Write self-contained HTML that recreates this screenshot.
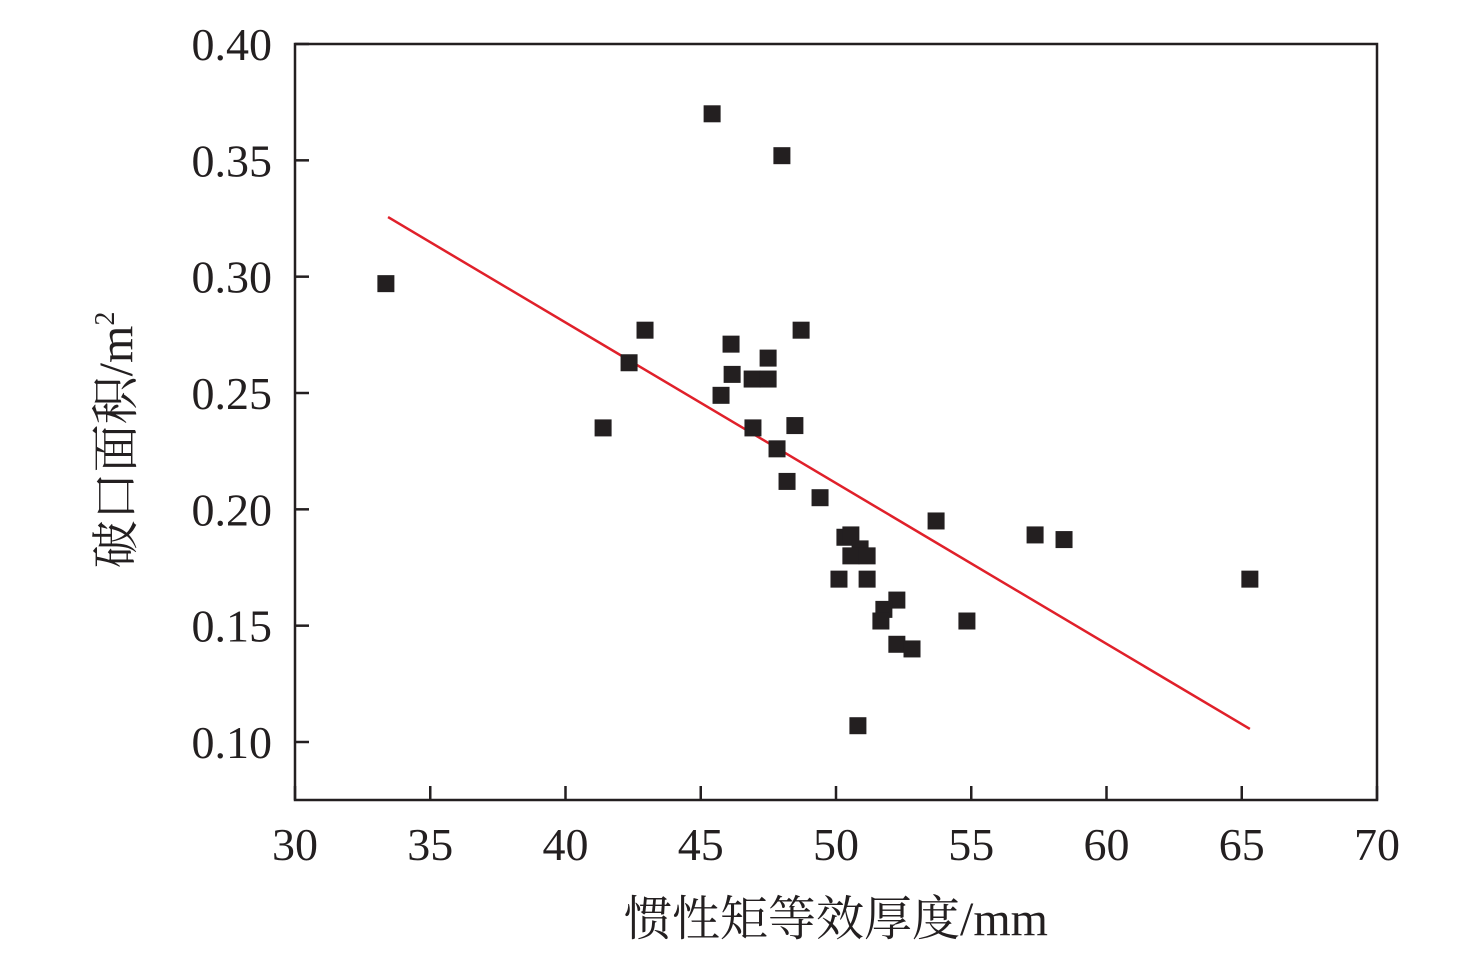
<!DOCTYPE html>
<html><head><meta charset="utf-8"><style>
html,body{margin:0;padding:0;background:#fff;}
svg text{font-family:"Liberation Serif","Noto Serif CJK SC",serif;fill:#231f20;}
</style></head><body>
<svg id="chart" width="1476" height="965" viewBox="0 0 1476 965" xmlns="http://www.w3.org/2000/svg">
<rect x="295" y="44" width="1082" height="756" fill="none" stroke="#231f20" stroke-width="2.5"/>
<g id="ticks"></g>
<g id="points"></g>
<text x="836" y="935" font-size="48" text-anchor="middle">惯性矩等效厚度/mm</text>
<text transform="translate(132,440) rotate(-90)" font-size="48" text-anchor="middle">破口面积/m<tspan font-size="28" dy="-18">2</tspan></text>
</svg>
<script>
const xTicks=[30,35,40,45,50,55,60,65,70];
const yTicks=[0.10,0.15,0.20,0.25,0.30,0.35,0.40];
const xs=[33.36,45.42,48.0,42.94,42.35,41.39,46.12,46.16,45.75,46.9,47.49,47.49,48.71,46.93,48.48,47.82,48.19,49.41,53.7,50.33,50.55,50.89,50.55,51.15,50.11,51.15,57.36,58.43,65.3,52.25,51.77,51.66,54.84,52.25,52.81,50.81];
const ys=[0.297,0.370,0.352,0.277,0.263,0.235,0.271,0.258,0.249,0.256,0.265,0.256,0.277,0.235,0.236,0.226,0.212,0.205,0.195,0.188,0.189,0.183,0.180,0.180,0.170,0.170,0.189,0.187,0.170,0.161,0.157,0.152,0.152,0.142,0.140,0.107];
const fitX=[33.44,65.3];
const fitY=[0.3256,0.1056];
const NS="http://www.w3.org/2000/svg";
const X=v=>295+(v-30)*(1082/40);
const Y=v=>742-(v-0.10)*(698/0.30);
const tg=document.getElementById('ticks'),pg=document.getElementById('points');
function mk(tag,a,p){const e=document.createElementNS(NS,tag);for(const k in a)e.setAttribute(k,a[k]);p.appendChild(e);return e;}
xTicks.forEach(t=>{
 const l=mk('line',{x1:X(t),x2:X(t),y1:800,y2:786,stroke:'#231f20','stroke-width':2.5},tg);
 
 
 const s=mk('text',{x:X(t),y:860,'font-size':46,'text-anchor':'middle'},tg);s.textContent=t;
 
 
});
yTicks.forEach(t=>{
 const l=mk('line',{x1:295,x2:309,y1:Y(t),y2:Y(t),stroke:'#231f20','stroke-width':2.5},tg);
 
 
 const s=mk('text',{x:272,y:Y(t)+16,'font-size':46,'text-anchor':'end'},tg);s.textContent=t.toFixed(2);
 
 
});
const fl=mk('line',{x1:X(fitX[0]),y1:Y(fitY[0]),x2:X(fitX[1]),y2:Y(fitY[1]),stroke:'#e0202a','stroke-width':2.5},pg);


xs.forEach((v,i)=>{
 const r=mk('rect',{x:X(v)-8.5,y:Y(ys[i])-8.5,width:17,height:17,fill:'#231f20'},pg);
 
 
});
</script>
</body></html>
